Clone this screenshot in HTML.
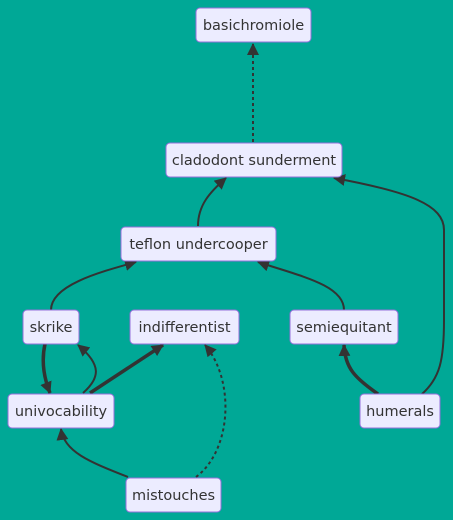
<!DOCTYPE html>
<html><head><meta charset="utf-8"><style>
html,body{margin:0;padding:0;background:#00A896;}
svg{display:block}
text{font-family:"DejaVu Sans","Liberation Sans",sans-serif;font-size:14.5px;fill:#333;}
</style></head><body>
<svg width="453" height="520" viewBox="0 0 453 520">
<defs>
<marker id="ah" viewBox="0 0 12 12" refX="11" refY="6" markerWidth="12" markerHeight="12" markerUnits="userSpaceOnUse" orient="auto">
<path d="M0,0 L12,6 L0,12 z" fill="#333"/>
</marker>
</defs>
<rect width="453" height="520" fill="#00A896"/>
<g fill="none" stroke="#333" stroke-width="2" marker-end="url(#ah)">
<path d="M253,142 L253,44" stroke-dasharray="3,3"/>
<path d="M198,226 C198,205 210,192 226,178"/>
<path d="M422,394 C440,378 444,360 444,320 L444,230 C444,205 410,192 334,178"/>
<path d="M51,310 C51,285 100,272 136,262"/>
<path d="M344,310 C344,285 300,276 258,262"/>
<path stroke-width="3.5" d="M45,344 C41,362 44,378 50,393"/>
<path d="M83,393 C100,378 102,365 78,345"/>
<path stroke-width="3.5" d="M90,393 L163,345"/>
<path stroke-dasharray="3,3" d="M196,477 C232,450 235,380 205,345"/>
<path d="M128,477 C90,462 64,452 61,429"/>
<path stroke-width="3.5" d="M378,394 C355,378 345,368 344,345"/>
</g>
<g stroke="#9370DB" stroke-width="1" fill="#ECECFF">
<g><rect x="196" y="8" width="115" height="34" rx="4"/><text x="253.5" y="30" text-anchor="middle" stroke="none">basichromiole</text></g>
<g><rect x="166" y="143" width="176" height="34" rx="4"/><text x="254" y="165" text-anchor="middle" stroke="none">cladodont sunderment</text></g>
<g><rect x="121" y="227" width="155" height="34" rx="4"/><text x="198.5" y="249" text-anchor="middle" stroke="none">teflon undercooper</text></g>
<g><rect x="23" y="310" width="56" height="34" rx="4"/><text x="51" y="332" text-anchor="middle" stroke="none">skrike</text></g>
<g><rect x="130" y="310" width="109" height="34" rx="4"/><text x="184.5" y="332" text-anchor="middle" stroke="none">indifferentist</text></g>
<g><rect x="290" y="310" width="108" height="34" rx="4"/><text x="344" y="332" text-anchor="middle" stroke="none">semiequitant</text></g>
<g><rect x="8" y="394" width="106" height="34" rx="4"/><text x="61" y="416" text-anchor="middle" stroke="none">univocability</text></g>
<g><rect x="360" y="394" width="80" height="34" rx="4"/><text x="400" y="416" text-anchor="middle" stroke="none">humerals</text></g>
<g><rect x="126" y="478" width="95" height="34" rx="4"/><text x="173.5" y="500" text-anchor="middle" stroke="none">mistouches</text></g>
</g>
</svg>
</body></html>
